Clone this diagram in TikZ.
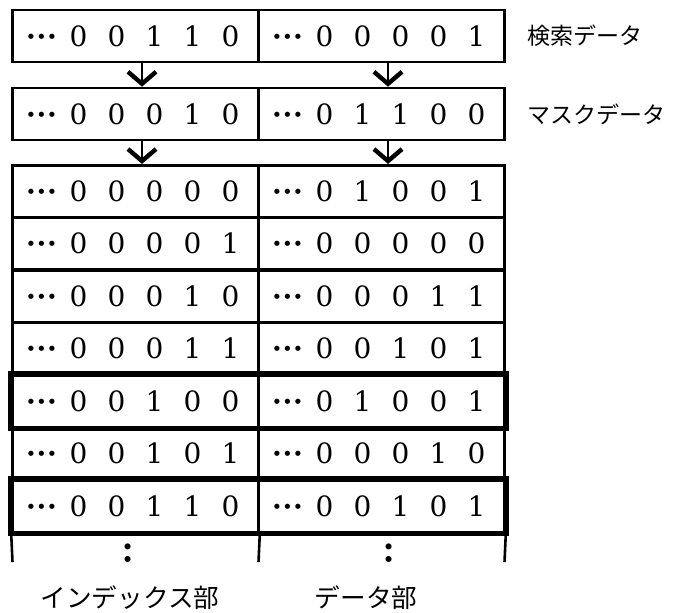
\documentclass[tikz,border=0pt]{standalone}
\usepackage{fontspec}
\usetikzlibrary{arrows.meta}
\newfontfamily\jpfont{Noto Sans CJK JP}
\newfontfamily\digitfont{DejaVu Serif}
\newcommand{\bits}[5]{\makebox[19pt]{\bfseries\kern1pt·\kern0.4pt·\kern0.4pt·}%
\makebox[19pt]{#1}\makebox[19pt]{#2}\makebox[19pt]{#3}\makebox[19pt]{#4}\makebox[19pt]{#5}}
\tikzstyle{cell}=[shape=rectangle,draw=black,line width=1.3pt,minimum width=123pt,minimum height=26pt,inner sep=0pt,font=\digitfont\fontsize{14}{16}\selectfont]
\tikzstyle{label}=[inner sep=0pt,font=\jpfont\fontsize{11.5}{14}\selectfont]

\begin{document}
\begin{tikzpicture}[x=0.5pt,y=-0.5pt]
\tikzstyle{hit}=[draw=black,line width=2.8pt]
\tikzstyle{arr}=[line width=1pt,-{Straight Barb[length=6pt,width=14pt,line width=2.2pt]}]
\useasboundingbox (0,0) rectangle (678,612);
% search and mask data
\node[cell] (k1) at (135.5,36) {\bits{0}{0}{1}{1}{0}};
\node[cell] (k2) at (381.5,36) {\bits{0}{0}{0}{0}{1}};
\node[cell] (m1) at (135.5,114) {\bits{0}{0}{0}{1}{0}};
\node[cell] (m2) at (381.5,114) {\bits{0}{1}{1}{0}{0}};
\node[label,anchor=west] (kl) at (527,36) {検索データ};
\node[label,anchor=west] (ml) at (527,114) {マスクデータ};
\draw[arr] ([xshift=3.25pt]k1.south) -- ([xshift=3.25pt]m1.north);
\draw[arr] ([xshift=3.25pt]k2.south) -- ([xshift=3.25pt]m2.north);
% table
\node[cell] (a1) at (135.5,191.25) {\bits{0}{0}{0}{0}{0}};
\node[cell] (a2) at (381.5,191.25) {\bits{0}{1}{0}{0}{1}};
\node[cell] (b1) at (135.5,243.75) {\bits{0}{0}{0}{0}{1}};
\node[cell] (b2) at (381.5,243.75) {\bits{0}{0}{0}{0}{0}};
\node[cell] (c1) at (135.5,296.25) {\bits{0}{0}{0}{1}{0}};
\node[cell] (c2) at (381.5,296.25) {\bits{0}{0}{0}{1}{1}};
\node[cell] (d1) at (135.5,348.75) {\bits{0}{0}{0}{1}{1}};
\node[cell] (d2) at (381.5,348.75) {\bits{0}{0}{1}{0}{1}};
\node[cell] (e1) at (135.5,401.25) {\bits{0}{0}{1}{0}{0}};
\node[cell] (e2) at (381.5,401.25) {\bits{0}{1}{0}{0}{1}};
\node[cell] (f1) at (135.5,453.75) {\bits{0}{0}{1}{0}{1}};
\node[cell] (f2) at (381.5,453.75) {\bits{0}{0}{0}{1}{0}};
\node[cell] (g1) at (135.5,506.25) {\bits{0}{0}{1}{1}{0}};
\node[cell] (g2) at (381.5,506.25) {\bits{0}{0}{1}{0}{1}};
\draw[arr] ([xshift=3.25pt]m1.south) -- ([xshift=3.25pt]a1.north);
\draw[arr] ([xshift=3.25pt]m2.south) -- ([xshift=3.25pt]a2.north);
% matching rows
\draw[hit] (e1.north west) rectangle (e2.south east);
\draw[hit] (g1.north west) rectangle (g2.south east);
% continuation
\coordinate (z1) at (12.5,562);
\coordinate (z2) at (258.5,562);
\coordinate (z3) at (504.5,562);
\draw[line width=1.3pt] (g1.south west) -- (z1);
\draw[line width=1.3pt] (g1.south east) -- (z2);
\draw[line width=1.3pt] (g2.south east) -- (z3);
\node[font=\fontsize{21}{21}\selectfont\bfseries] (v1) at (128,553) {:};
\node[font=\fontsize{21}{21}\selectfont\bfseries] (v2) at (389,553) {:};
\node[label,font=\jpfont\fontsize{12.8}{15}\selectfont] (il) at (130,598) {インデックス部};
\node[label,font=\jpfont\fontsize{12.8}{15}\selectfont] (dl) at (366,598) {データ部};
\end{tikzpicture}
\end{document}
